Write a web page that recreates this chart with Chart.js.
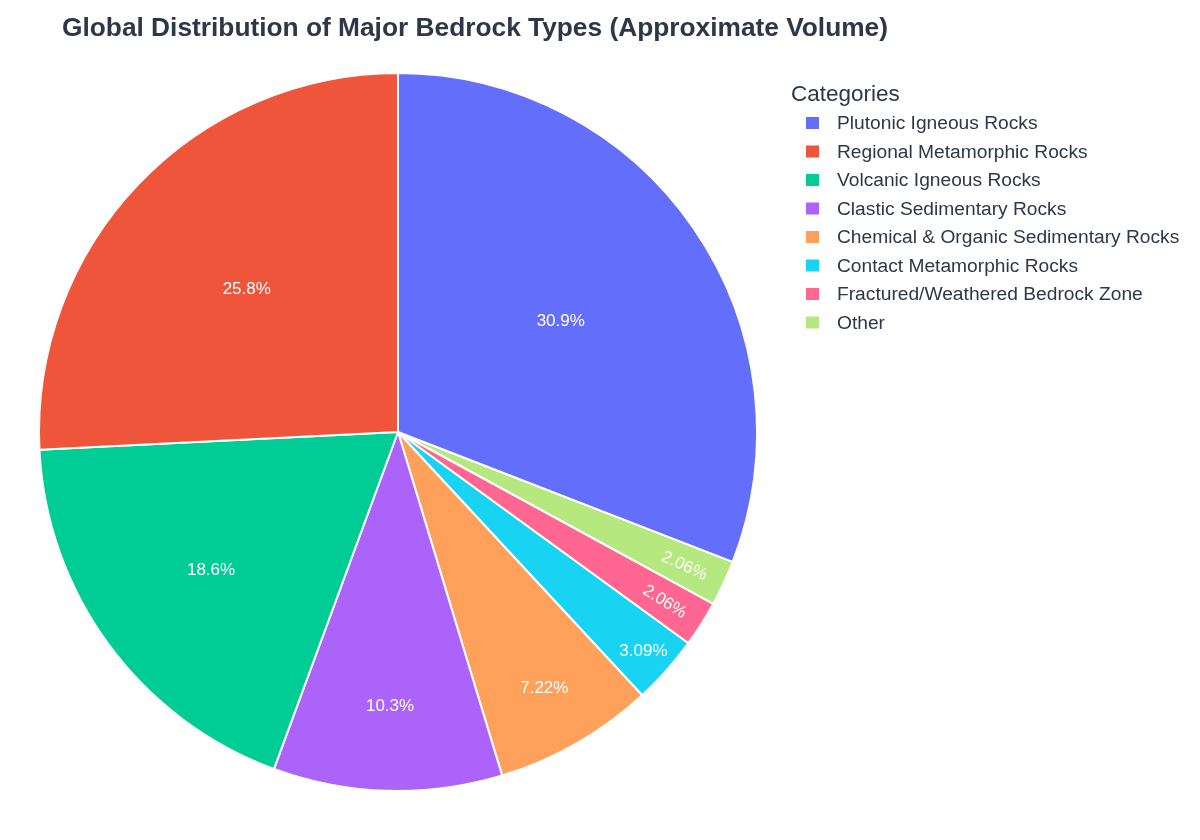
<!DOCTYPE html>
<html>
<head>
<meta charset="utf-8">
<script src="https://cdn.jsdelivr.net/npm/chart.js@4.4.1/dist/chart.umd.min.js"></script>
<style>
  body { margin: 0; background: #fff; }
  #wrap { width: 1200px; height: 840px; }
</style>
</head>
<body>
<div id="wrap"><canvas id="rockPie" width="1200" height="840"></canvas></div>
<script>
const chartTitle = 'Global Distribution of Major Bedrock Types (Approximate Volume)';
const legendTitle = 'Categories';
const categories = [
    'Plutonic Igneous Rocks',
    'Regional Metamorphic Rocks',
    'Volcanic Igneous Rocks',
    'Clastic Sedimentary Rocks',
    'Chemical & Organic Sedimentary Rocks',
    'Contact Metamorphic Rocks',
    'Fractured/Weathered Bedrock Zone',
    'Other'
];
const volumeShare = [30.9, 25.8, 18.6, 10.3, 7.22, 3.09, 2.06, 2.06];
const sliceColors = ['#636efa', '#EF553B', '#00cc96', '#ab63fa', '#FFA15A', '#19d3f3', '#FF6692', '#B6E880'];

const FONT = '"Liberation Sans", Arial, sans-serif';
const TEXT_COLOR = '#2d3748';
const TEXTPAD = 3;

const total = volumeShare.reduce((a, b) => a + b, 0);
// the reference runs counterclockwise from 12 o'clock, chart.js only goes clockwise,
// so feed the slices reversed and turn the start so the first slice ends up right of 12
const drawOrder = categories.map((_, i) => i).reverse();

// percent labels inside the slices, placed the way plotly does (inscribed circle, or radial if too thin)
const sliceLabels = {
    id: 'sliceLabels',
    afterDatasetsDraw(chart) {
        const ctx = chart.ctx;
        const meta = chart.getDatasetMeta(0);
        ctx.save();
        ctx.font = '17px ' + FONT;
        ctx.fillStyle = '#fff';
        ctx.textAlign = 'center';
        ctx.textBaseline = 'middle';
        meta.data.forEach((arc, j) => {
            const i = drawOrder[j];
            const txt = (volumeShare[i] / total * 100).toPrecision(3) + '%';
            const w = ctx.measureText(txt).width;
            const h = 17 * 1.15;
            const p = arc.getProps(['x', 'y', 'startAngle', 'endAngle', 'outerRadius'], true);
            const r = p.outerRadius + 1;
            const half = (p.endAngle - p.startAngle) / 2;
            const mid = (p.startAngle + p.endAngle) / 2;

            const rIns = Math.min(1 / (1 + 1 / Math.sin(half)), 0.5);
            const horizScale = rIns * r * 2 / Math.hypot(w, h);
            let rc = 1 - rIns, rot = 0, scale = horizScale;
            if (horizScale < 1) {
                const rr = Math.max(0, r - 2 * TEXTPAD);
                const a = w / h;
                const q = a + 1 / (2 * Math.tan(half));
                const s = rr * Math.min(1 / (Math.sqrt(q * q + 0.5) + q), 1 / (Math.sqrt(a * a + 0.5) + a));
                const radScale = s * 2 / h;
                if (radScale > horizScale) {
                    scale = radScale;
                    rc = Math.cos(s / rr) - a * s / rr;
                    const deg = (mid + Math.PI / 2) * 180 / Math.PI;
                    rot = ((deg + 720) % 180 - 90) * Math.PI / 180;
                }
            }
            const tx = p.x + Math.cos(mid) * r * rc;
            const ty = p.y + Math.sin(mid) * r * rc;
            ctx.save();
            ctx.translate(tx, ty);
            ctx.rotate(rot);
            const k = Math.min(1, scale);
            ctx.scale(k, k);
            ctx.fillText(txt, 0, 1);
            ctx.restore();
        });
        ctx.restore();
    }
};

// title and legend in the spots the reference uses
const titleAndLegend = {
    id: 'titleAndLegend',
    afterDraw(chart) {
        const ctx = chart.ctx;
        ctx.save();
        ctx.textAlign = 'left';
        ctx.textBaseline = 'middle';
        ctx.fillStyle = TEXT_COLOR;
        ctx.font = 'bold 26.3px ' + FONT;
        ctx.fillText(chartTitle, 62, 29);

        ctx.font = '22.5px ' + FONT;
        ctx.fillText(legendTitle, 791, 95);
        ctx.font = '19.2px ' + FONT;
        categories.forEach((name, i) => {
            const yy = 123 + i * 28.5;
            ctx.fillStyle = sliceColors[i];
            ctx.fillRect(806, yy - 6, 13, 12);
            ctx.fillStyle = TEXT_COLOR;
            ctx.fillText(name, 837, yy + 1);
        });
        ctx.restore();
    }
};

new Chart(document.getElementById('rockPie'), {
    type: 'pie',
    data: {
        labels: drawOrder.map(i => categories[i]),
        datasets: [{
            data: drawOrder.map(i => volumeShare[i]),
            backgroundColor: drawOrder.map(i => sliceColors[i]),
            borderColor: '#ffffff',
            borderWidth: 2,
            hoverOffset: 0
        }]
    },
    options: {
        responsive: false,
        animation: false,
        events: [],
        rotation: 360 * volumeShare[0] / total,
        layout: { padding: { left: 38, top: 72, right: 442, bottom: 48 } },
        plugins: {
            legend: { display: false },
            title: { display: false },
            tooltip: { enabled: false }
        }
    },
    plugins: [sliceLabels, titleAndLegend]
});
</script>
</body>
</html>
